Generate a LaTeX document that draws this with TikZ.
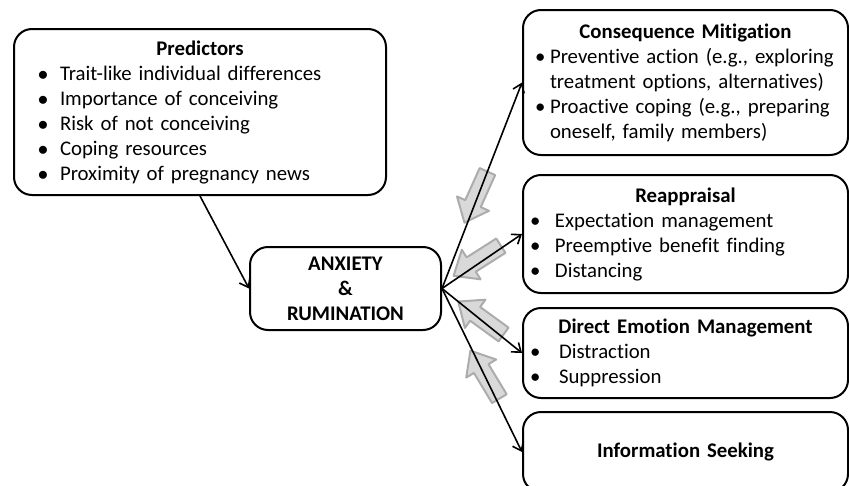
\documentclass[tikz,border=0pt]{standalone}
\usepackage{fontspec}
\setmainfont{Carlito}[Ligatures=NoCommon]
\usetikzlibrary{arrows.meta,shapes.arrows}
\newcommand{\ttl}[1]{\makebox[\linewidth]{\bfseries #1}}
\newcommand{\bl}[3][\textbullet]{\hspace*{#2}\makebox[#3][l]{#1}}
\tikzset{
  box/.style={draw, line width=2pt, rounded corners=18pt, inner sep=0pt, align=left,
    font=\fontsize{20.8}{25}\selectfont},
  back/.style={single arrow, draw=gray!65, fill=gray!30, line width=2pt, inner sep=7.5pt,
    minimum height=56pt, single arrow head extend=9pt, single arrow tip angle=80},
}
\begin{document}
\begin{tikzpicture}[x=1pt, y=-1pt, >={Straight Barb[length=8pt,width=12pt]}, line join=round, line cap=round]
  \useasboundingbox (0,0) rectangle (849,485);
  % boxes
  \node[box, text width=372pt, minimum height=166pt] (pred) at (200,112) {\ttl{Predictors}\\
    \bl[$\bullet$]{24pt}{22pt}Trait-like individual differences\\
    \bl[$\bullet$]{24pt}{22pt}Importance of conceiving\\
    \bl[$\bullet$]{24pt}{22pt}Risk of not conceiving\\
    \bl[$\bullet$]{24pt}{22pt}Coping resources\\
    \bl[$\bullet$]{24pt}{22pt}Proximity of pregnancy news};
  \node[box, align=center, text width=191pt, minimum height=83pt, font=\fontsize{20.8}{25}\selectfont\bfseries] (anx) at (345.5,288.5) {ANXIETY\\\&\\RUMINATION};
  \node[box, text width=325pt, minimum height=145pt] (cons) at (685.5,82.5) {\ttl{Consequence Mitigation}\\
    \bl{12pt}{15pt}Preventive action (e.g., exploring\\
    \hspace*{27pt}treatment options, alternatives)\\
    \bl{12pt}{15pt}Proactive coping (e.g., preparing\\
    \hspace*{27pt}oneself, family members)};
  \node[box, text width=325pt, minimum height=118pt] (reap) at (685.5,234) {\ttl{Reappraisal}\\
    \bl{7pt}{25pt}Expectation management\\
    \bl{7pt}{25pt}Preemptive benefit finding\\
    \bl{7pt}{25pt}Distancing};
  \node[box, text width=325pt, minimum height=90pt] (dem) at (685.5,353) {\ttl{Direct Emotion Management}\\
    \bl{7pt}{29pt}Distraction\\
    \bl{7pt}{29pt}Suppression};
  \node[box, text width=325pt, minimum height=80pt] (info) at (685.5,452) {\ttl{Information Seeking}};
  % feedback arrows
  \node[back, rotate=245.8] (fb1) at (478,192.5) {};
  \node[back, rotate=212.5] (fb2) at (481.5,258) {};
  \node[back, rotate=144] (fb3) at (485,321) {};
  \node[back, rotate=121.1] (fb4) at (487.5,379) {};
  % connectors
  \draw[->, line width=1.6pt] (pred.south) -- (anx.west);
  \draw[->, line width=1.6pt] (anx.east) -- (cons.west);
  \draw[->, line width=1.6pt] (anx.east) -- (reap.west);
  \draw[->, line width=1.6pt] (anx.east) -- (dem.west);
  \draw[->, line width=1.6pt] (anx.east) -- (info.west);
\end{tikzpicture}
\end{document}
